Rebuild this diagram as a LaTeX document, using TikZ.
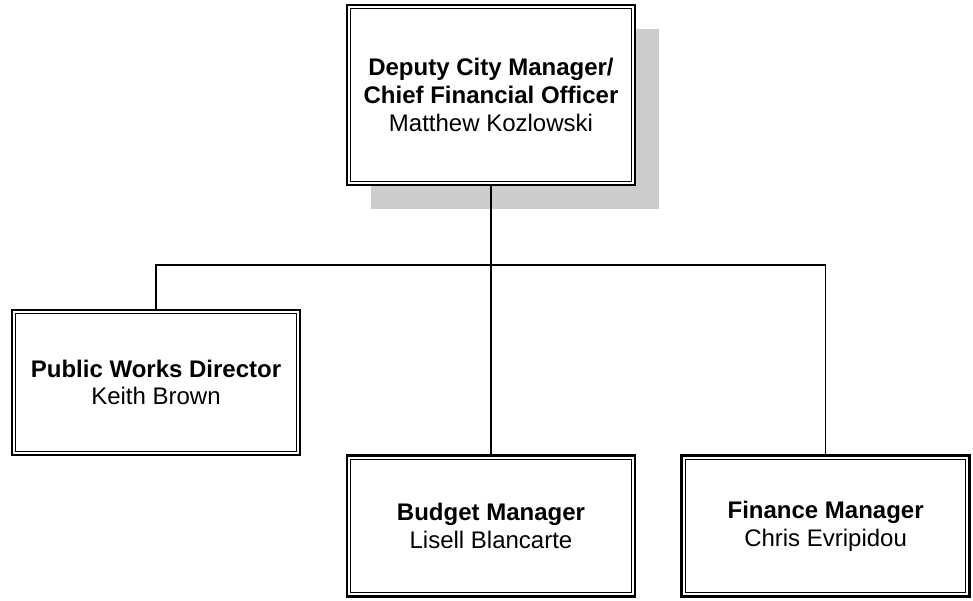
\documentclass[tikz,border=0pt]{standalone}
\usepackage{fontspec}
\setmainfont{Liberation Sans}
\usetikzlibrary{positioning,shadows}

\begin{document}
\begin{tikzpicture}[
            x=0.5pt, y=-0.5pt,
            post/.style={rectangle, draw, line width=1.3pt, fill=white, minimum width=144pt, align=center, font=\fontsize{12}{13.8}\selectfont},
            inner/.style={line width=0.5pt},
            conn/.style={line width=0.8pt}
        ]
            \useasboundingbox (0,0) rectangle (973,600);

            \node[post, minimum height=90pt, drop shadow={shadow xshift=12pt, shadow yshift=-12pt, fill=black!20, opacity=1}] (dcm) at (491,95)
                {\textbf{Deputy City Manager/}\\ \textbf{Chief Financial Officer}\\ Matthew Kozlowski};
            \node[post, minimum height=72.5pt] (pwd) at (156,382.5) {\textbf{Public Works Director}\\ Keith Brown};
            \node[post, minimum height=70.5pt, below=134pt of dcm] (bm) {\textbf{Budget Manager}\\ Lisell Blancarte};
            \node[post, minimum height=70.5pt, right=22pt of bm] (fm) {\textbf{Finance Manager}\\ Chris Evripidou};

            % inner line of the double frame
            \foreach \n in {dcm,pwd,bm,fm}
                \draw[inner] ([shift={(2.6pt,-2.6pt)}]\n.north west) rectangle ([shift={(-2.6pt,2.6pt)}]\n.south east);

            \coordinate (bus) at (491,265);
            \draw[conn] (dcm) -- (bus);
            \draw[conn] (bus) -| (pwd);
            \draw[conn] (bus) -- (bm);
            \draw[conn] (bus) -| (fm);
        \end{tikzpicture}
\end{document}
